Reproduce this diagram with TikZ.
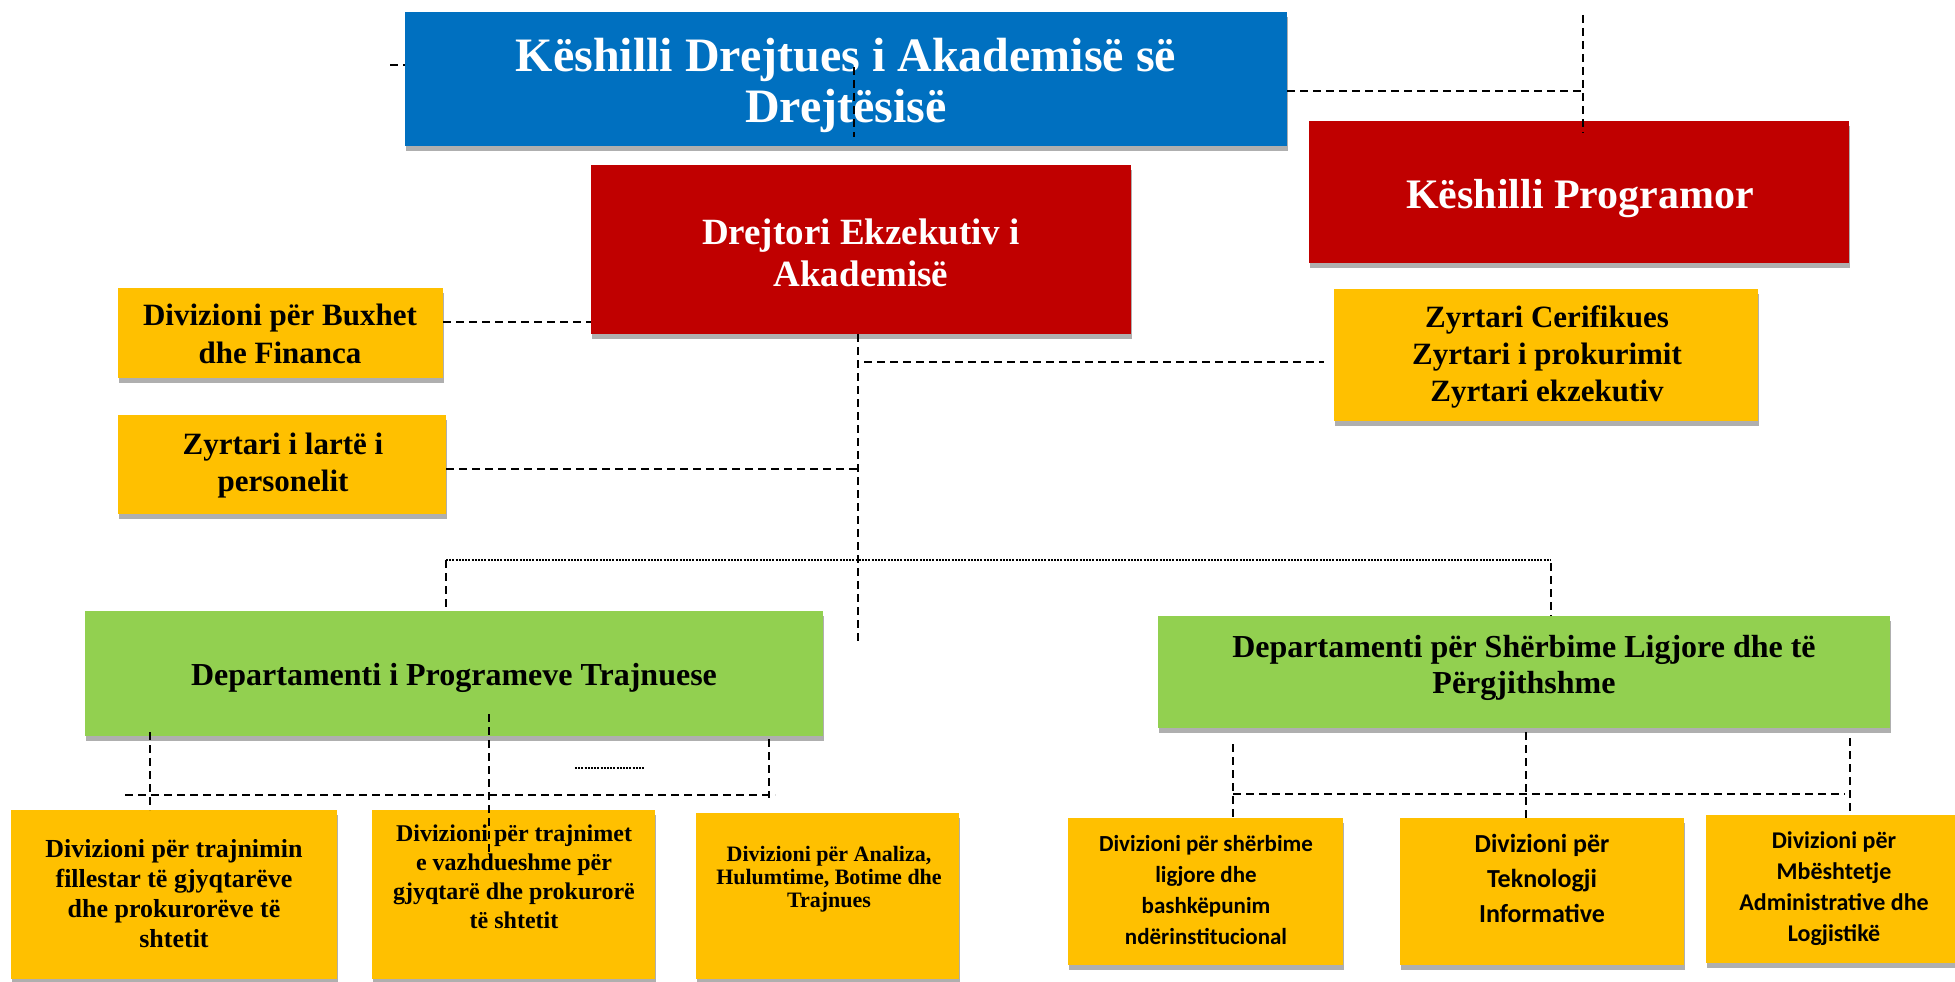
\documentclass[tikz,border=0pt]{standalone}
\usepackage{fontspec}
\setmainfont{Liberation Serif}
\newfontfamily\carl{Carlito}
\usetikzlibrary{calc}
\definecolor{cblue}{HTML}{0070C0}
\definecolor{cred}{HTML}{C00000}
\definecolor{cyel}{HTML}{FFC000}
\definecolor{cgreen}{HTML}{92D050}
\definecolor{cshadow}{HTML}{AFAFAF}
\tikzset{
  orgbox/.style={rectangle, inner sep=0pt, outer sep=0pt,
    preaction={fill=cshadow, transform canvas={xshift=1pt, yshift=-5pt}}},
  txt/.style={align=center, inner sep=0pt, outer sep=0pt},
  dline/.style={draw=black, line width=1.6pt, dash pattern=on 8pt off 5pt},
  fline/.style={draw=black, line width=1.2pt, dash pattern=on 2pt off 1.2pt},
}
\newcommand{\fs}[2]{\fontsize{#1}{#2}\selectfont\bfseries}
\begin{document}
\begin{tikzpicture}[x=1pt,y=-1pt]
\useasboundingbox (0,0) rectangle (1955,982);
% ---------- boxes ----------
\node[orgbox, fill=cblue, minimum width=882pt, minimum height=134pt] (council) at (846,79) {};
\node[orgbox, fill=cred, minimum width=540pt, minimum height=142pt] (prog) at (1579,192) {};
\node[orgbox, fill=cred, minimum width=540pt, minimum height=169pt] (exec) at (861,249.5) {};
\node[orgbox, fill=cyel, minimum width=325pt, minimum height=90pt] (buxhet) at (280.5,333) {};
\node[orgbox, fill=cyel, minimum width=328pt, minimum height=99pt] (personel) at (282,464.5) {};
\node[orgbox, fill=cyel, minimum width=424pt, minimum height=132pt] (zyrt) at (1546,355) {};
\node[orgbox, fill=cgreen, minimum width=738pt, minimum height=125pt] (dep1) at (454,673.5) {};
\node[orgbox, fill=cgreen, minimum width=732pt, minimum height=112pt] (dep2) at (1524,672) {};
\node[orgbox, fill=cyel, minimum width=326pt, minimum height=169pt] (b1) at (174,894.5) {};
\node[orgbox, fill=cyel, minimum width=283pt, minimum height=169pt] (b2) at (513.5,894.5) {};
\node[orgbox, fill=cyel, minimum width=263pt, minimum height=166pt] (b3) at (827.5,896) {};
\node[orgbox, fill=cyel, minimum width=275pt, minimum height=147pt] (b4) at (1205.5,891.5) {};
\node[orgbox, fill=cyel, minimum width=284pt, minimum height=147pt] (b5) at (1542,891.5) {};
\node[orgbox, fill=cyel, minimum width=251pt, minimum height=148pt] (b6) at (1831.5,889) {};
% ---------- texts ----------
\node[txt, text=white, font=\fs{48}{51}] (councilT) at (846,85) {Këshilli Drejtues i Akademisë së\\Drejtësisë};
\node[txt, text=white, font=\fs{42}{48}] (progT) at (1580,199) {Këshilli Programor};
\node[txt, text=white, font=\fs{37}{42}] (execT) at (861,253) {Drejtori Ekzekutiv i\\Akademisë};
\node[txt, font=\fs{31}{38}] (buxhetT) at (280,334) {Divizioni për Buxhet\\dhe Financa};
\node[txt, font=\fs{31}{37}] (personelT) at (283,466) {Zyrtari i lartë i\\personelit};
\node[txt, font=\fs{31}{37}] (zyrtT) at (1547,357) {Zyrtari Cerifikues\\Zyrtari i prokurimit\\Zyrtari ekzekutiv};
\node[txt, font=\fs{32}{36}] (dep1T) at (454,677.5) {Departamenti i Programeve Trajnuese};
\node[txt, font=\fs{32}{36}] (dep2T) at (1524,668) {Departamenti për Shërbime Ligjore dhe të\\Përgjithshme};
\node[txt, font=\fs{26}{30}] (b1T) at (174,894) {Divizioni për trajnimin\\fillestar të gjyqtarëve\\dhe prokurorëve të\\shtetit};
\node[txt, font=\fs{24}{29}] (b2T) at (514,877) {Divizioni për trajnimet\\e vazhdueshme për\\gjyqtarë dhe prokurorë\\të shtetit};
\node[txt, font=\fs{22}{23}] (b3T) at (829,879.5) {Divizioni për Analiza,\\Hulumtime, Botime dhe\\Trajnues};
\node[txt, font=\carl\fs{23}{31}] (b4T) at (1206,890) {Divizioni për shërbime\\ligjore dhe\\bashkëpunim\\ndërinstitucional};
\node[txt, font=\carl\fs{26}{35}] (b5T) at (1542,878) {Divizioni për\\Teknologji\\Informative};
\node[txt, font=\carl\fs{24}{31}] (b6T) at (1834,889) {Divizioni për\\Mbështetje\\Administrative dhe\\Logjistikë};
% ---------- connectors ----------
\coordinate (tickL) at (390,65);
\draw[dline] (tickL) -- (tickL -| council.west);
\coordinate (cvT) at (854,67);
\coordinate (cvB) at (854,137);
\draw[dline] (cvT) -- (cvB);
\coordinate (pTop) at (1583,15);
\coordinate (pJ) at (1583,91);
\coordinate (pBot) at (1583,133);
\draw[dline] (council.east |- pJ) -- (pJ);
\draw[dline] (pTop) -- (pBot);
\coordinate (yBux) at (0,322);
\draw[dline] (buxhet.east |- yBux) -- (exec.west |- yBux);
\coordinate (ev) at (858,641);
\draw[dline] (ev |- exec.south) -- (ev);
\coordinate (zJ) at (864,362);
\coordinate (zE) at (1324,362);
\draw[dline] (zJ) -- (zE);
\coordinate (pJn) at (860,469);
\draw[dline] (personel.east |- pJn) -- (pJn);
\coordinate (hL) at (446,560);
\coordinate (hR) at (1551,560);
\draw[fline] (hL) -- (hR);
\draw[dline] (hL) -- (hL |- dep1.north);
\draw[dline] (1551,563) coordinate (hR2) -- (hR2 |- dep2.north);
\coordinate (dotA) at (575,768);
\coordinate (dotB) at (645,768);
\draw[fline] (dotA) -- (dotB);
% dep1 children
\coordinate (l1) at (125,795);
\coordinate (l2) at (775,795);
\draw[dline] (l1) -- (l2);
\draw[dline] (150,732) coordinate (v1) -- (v1 |- b1.north);
\draw[dline] (489,714) coordinate (v2) -- (489,852) coordinate (v2b);
\draw[dline] (769,739) coordinate (v3) -- (769,798) coordinate (v3b);
% dep2 children
\coordinate (r1) at (1233,794);
\coordinate (r2) at (1845,794);
\draw[dline] (r1) -- (r2);
\draw[dline] (1233,744) coordinate (w1) -- (w1 |- b4.north);
\draw[dline] (1526,732) coordinate (w2) -- (w2 |- b5.north);
\draw[dline] (1850,738) coordinate (w3) -- (w3 |- b6.north);
\end{tikzpicture}
\end{document}
